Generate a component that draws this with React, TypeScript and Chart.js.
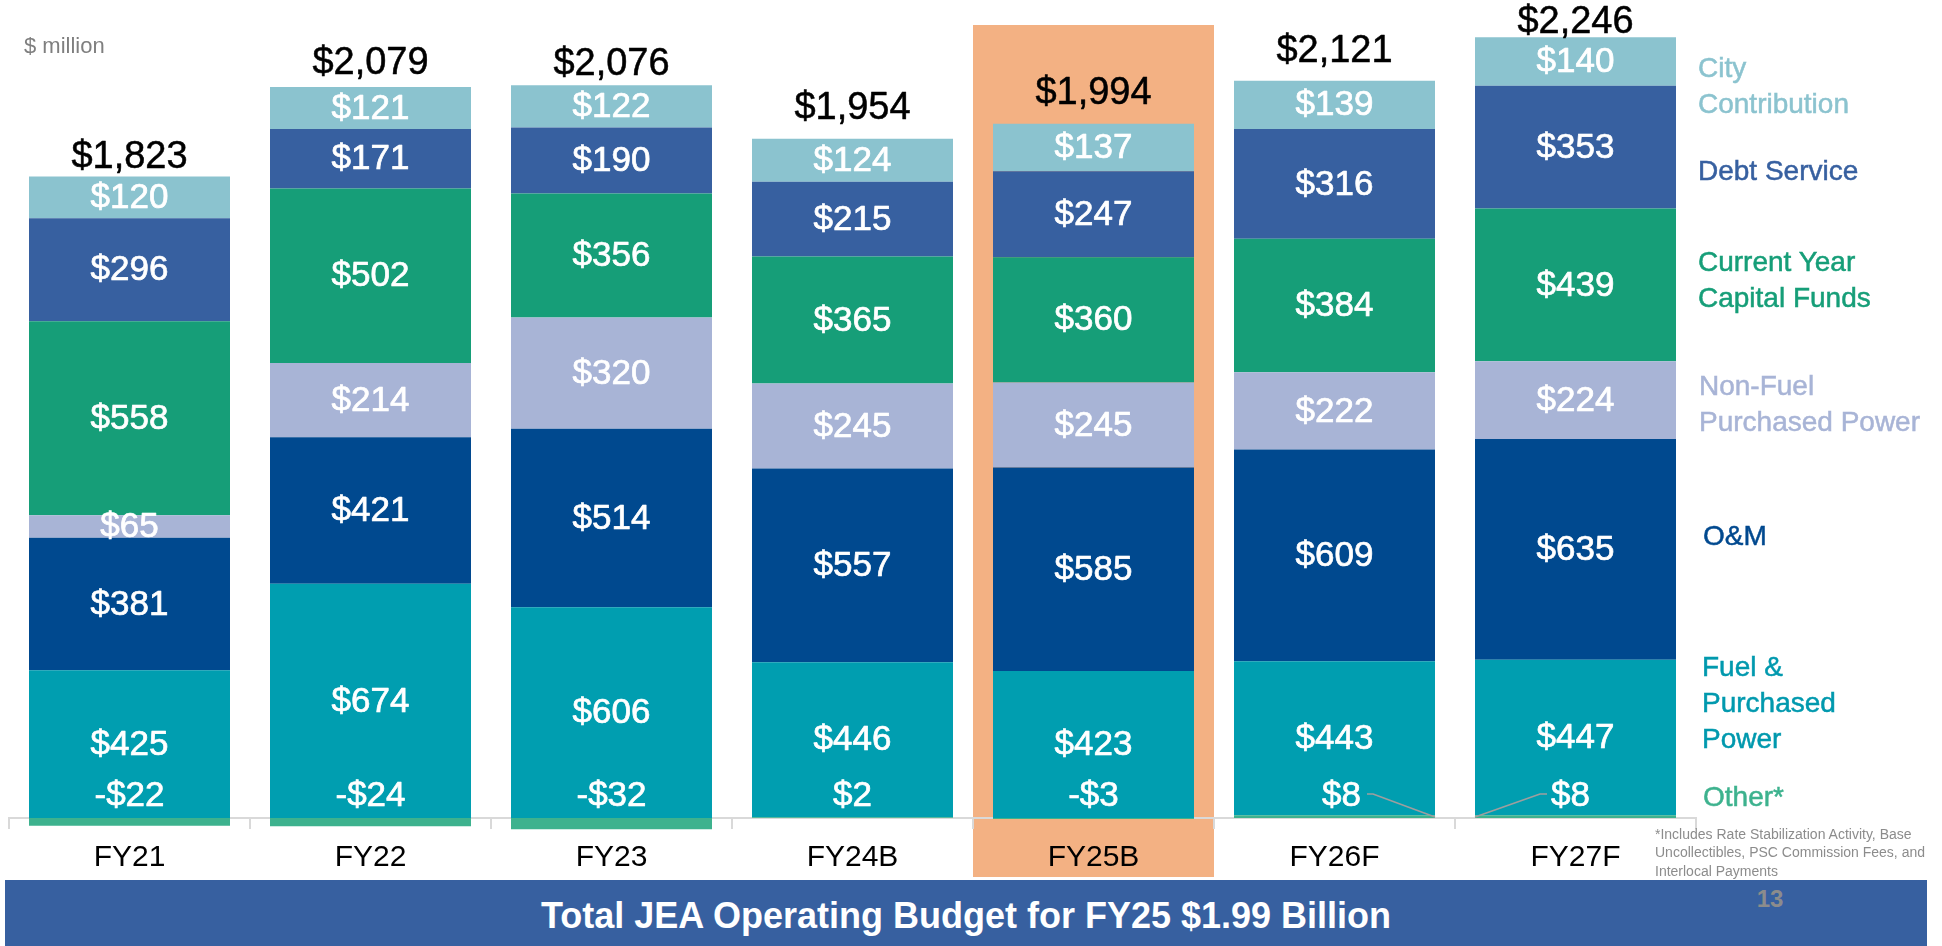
import React, { useEffect, useRef } from 'react';
import { Chart, registerables } from 'chart.js';

Chart.register(...registerables);

const categories = ['FY21', 'FY22', 'FY23', 'FY24B', 'FY25B', 'FY26F', 'FY27F'];
const otherValues = [-22, -24, -32, 2, -3, 8, 8];
const fuelValues = [425, 674, 606, 446, 423, 443, 447];
const omValues = [381, 421, 514, 557, 585, 609, 635];
const nonFuelValues = [65, 214, 320, 245, 245, 222, 224];
const capitalValues = [558, 502, 356, 365, 360, 384, 439];
const debtValues = [296, 171, 190, 215, 247, 316, 353];
const cityValues = [120, 121, 122, 124, 137, 139, 140];

const seriesNames = [
  'Other*',
  'Fuel & Purchased Power',
  'O&M',
  'Non-Fuel Purchased Power',
  'Current Year Capital Funds',
  'Debt Service',
  'City Contribution',
];
const seriesValues = [otherValues, fuelValues, omValues, nonFuelValues, capitalValues, debtValues, cityValues];
const seriesColors = ['#3DB28E', '#009EB0', '#00498F', '#A8B4D6', '#169E78', '#3760A0', '#8BC3CF'];

const highlightCategory = 'FY25B';
// layout-only tweaks (pixels): lift of each total label above its bar, leader-line side of the "Other" label
const totalLabelLift = [9, 13, 10, 20, 20, 19, 4];
const otherLeaderSide: (string | null)[] = [null, null, null, null, null, 'right', 'left'];

const FONT = '"Liberation Sans", Arial, sans-serif';

function fmt(v: number): string {
  const s = '$' + Math.abs(v).toLocaleString('en-US');
  return v < 0 ? '-' + s : s;
}

function heavyText(ctx: CanvasRenderingContext2D, txt: string, x: number, y: number, color: string, stroke: number) {
  ctx.fillStyle = color;
  ctx.fillText(txt, x, y);
  if (stroke > 0) {
    ctx.strokeStyle = color;
    ctx.lineWidth = stroke;
    ctx.strokeText(txt, x, y);
  }
}

const labelPlugin = {
  id: 'jeaLabels',
  beforeDraw(chart: any) {
    const xs = chart.scales.x;
    const ctx = chart.ctx;
    const i = categories.indexOf(highlightCategory);
    const w = xs.width / categories.length;
    const cx = xs.getPixelForValue(i);
    ctx.save();
    ctx.fillStyle = '#F3B183';
    ctx.fillRect(cx - w / 2, 25, w, 852);
    ctx.restore();
  },
  afterDatasetsDraw(chart: any) {
    const ctx = chart.ctx;
    const ys = chart.scales.y;
    const zero = ys.getPixelForValue(0);
    const n = chart.data.datasets.length;
    ctx.save();
    ctx.textAlign = 'center';
    ctx.textBaseline = 'middle';
    ctx.lineJoin = 'round';
    ctx.font = `35px ${FONT}`;
    for (let d = 1; d < n; d++) {
      const meta = chart.getDatasetMeta(d);
      meta.data.forEach((el: any, i: number) => {
        const v = chart.data.datasets[d].data[i];
        heavyText(ctx, fmt(v), el.x, (el.y + el.base) / 2 + 1, '#ffffff', 0.7);
      });
    }
    const om = chart.getDatasetMeta(0);
    om.data.forEach((el: any, i: number) => {
      const v = chart.data.datasets[0].data[i];
      const side = otherLeaderSide[i];
      const lx = el.x + (side === 'right' ? 7 : side === 'left' ? -5 : 0);
      const ly = zero - 22;
      const txt = fmt(v);
      heavyText(ctx, txt, lx, ly, '#ffffff', 0.7);
      if (side) {
        const tw = ctx.measureText(txt).width;
        const half = el.width / 2;
        ctx.strokeStyle = '#9E9E9E';
        ctx.lineWidth = 1.5;
        ctx.beginPath();
        if (side === 'right') {
          ctx.moveTo(lx + tw / 2 + 6, ly - 2);
          ctx.lineTo(lx + tw / 2 + 12, ly - 2);
          ctx.lineTo(el.x + half, zero - 1);
        } else {
          ctx.moveTo(lx - tw / 2 - 4, ly - 2);
          ctx.lineTo(lx - tw / 2 - 11, ly - 2);
          ctx.lineTo(el.x - half, zero - 1);
        }
        ctx.stroke();
      }
    });
    const topMeta = chart.getDatasetMeta(n - 1);
    ctx.font = `38px ${FONT}`;
    ctx.textBaseline = 'alphabetic';
    topMeta.data.forEach((el: any, i: number) => {
      let total = 0;
      for (let d = 0; d < n; d++) total += chart.data.datasets[d].data[i];
      heavyText(ctx, fmt(total), el.x, el.y - totalLabelLift[i], '#000000', 0.5);
    });
    ctx.restore();
  },
};

const legendItems = [
  { lines: ['City', 'Contribution'], color: '#8BC3CF', left: 1698, top: 50 },
  { lines: ['Debt Service'], color: '#3760A0', left: 1698, top: 153 },
  { lines: ['Current Year', 'Capital Funds'], color: '#169E78', left: 1698, top: 244 },
  { lines: ['Non-Fuel', 'Purchased Power'], color: '#A8B4D6', left: 1699, top: 368 },
  { lines: ['O&M'], color: '#00498F', left: 1703, top: 518 },
  { lines: ['Fuel &', 'Purchased', 'Power'], color: '#0099AE', left: 1702, top: 649 },
  { lines: ['Other*'], color: '#3DB28E', left: 1703, top: 779 },
];

export default function App() {
  const canvasRef = useRef<HTMLCanvasElement | null>(null);

  useEffect(() => {
    document.body.style.margin = '0';
    const canvas = canvasRef.current;
    if (!canvas) return;
    Chart.defaults.font.family = FONT;
    const chart = new Chart(canvas, {
      type: 'bar',
      data: {
        labels: categories,
        datasets: seriesNames.map((name, k) => ({
          label: name,
          data: seriesValues[k],
          backgroundColor: seriesColors[k],
          borderWidth: 0,
          barPercentage: 0.834,
          categoryPercentage: 1.0,
        })),
      },
      options: {
        responsive: false,
        animation: false,
        devicePixelRatio: 1,
        layout: { padding: { left: 9, right: 246, top: 18.4, bottom: 110.6 } },
        plugins: {
          legend: { display: false },
          tooltip: { enabled: false },
          title: { display: false },
        },
        scales: {
          x: {
            stacked: true,
            position: { y: 0 } as any,
            offset: true,
            grid: {
              offset: true,
              drawOnChartArea: false,
              drawTicks: true,
              tickLength: 10,
              color: '#D9D9D9',
              lineWidth: 2,
            },
            border: { display: true, color: '#D9D9D9', width: 2 },
            ticks: {
              color: '#000000',
              font: { family: FONT, size: 30 },
              padding: 12,
              autoSkip: false,
              maxRotation: 0,
            },
          },
          y: {
            stacked: true,
            display: false,
            min: -50,
            max: 2300,
          },
        },
      },
      plugins: [labelPlugin],
    });
    return () => chart.destroy();
  }, []);

  return (
    <div style={{ position: 'fixed', left: 0, top: 0, width: 1942, height: 946, background: '#ffffff', overflow: 'hidden', fontFamily: FONT }}>
      <canvas ref={canvasRef} width={1942} height={946} style={{ position: 'absolute', left: 0, top: 0, width: 1942, height: 946 }} />
      <div style={{ position: 'absolute', left: 24, top: 33, fontSize: 22, lineHeight: '26px', color: '#7F7F7F', whiteSpace: 'nowrap' }}>$ million</div>
      {legendItems.map((it) => (
        <div key={it.lines.join(' ')} style={{ position: 'absolute', left: it.left, top: it.top, fontSize: 28, lineHeight: '36px', color: it.color, whiteSpace: 'nowrap', WebkitTextStroke: `0.5px ${it.color}` }}>
          {it.lines.map((l) => (
            <div key={l}>{l}</div>
          ))}
        </div>
      ))}
      <div style={{ position: 'absolute', left: 1655, top: 825, fontSize: 14, lineHeight: '18.3px', color: '#8C8C8C', whiteSpace: 'nowrap' }}>
        *Includes Rate Stabilization Activity, Base<br />
        Uncollectibles, PSC Commission Fees, and<br />
        Interlocal Payments
      </div>
      <div style={{ position: 'absolute', left: 5, top: 880, width: 1922, height: 66, background: '#3760A0' }}>
        <div style={{ position: 'absolute', left: 0, width: 1922, top: 16, textAlign: 'center', color: '#ffffff', fontSize: 36, fontWeight: 'bold', lineHeight: '40px', whiteSpace: 'nowrap' }}>
          Total JEA Operating Budget for FY25 $1.99 Billion
        </div>
        <div style={{ position: 'absolute', left: 1741, width: 48, top: 5, textAlign: 'center', color: '#8C8C8C', fontSize: 24, fontWeight: 'bold', lineHeight: '28px' }}>13</div>
      </div>
    </div>
  );
}
